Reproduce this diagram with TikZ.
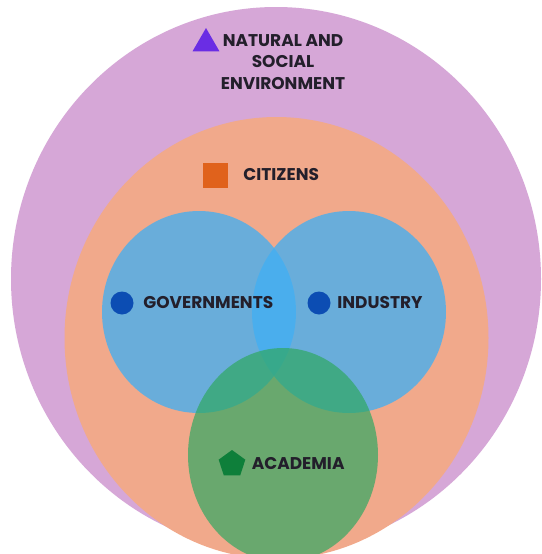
\documentclass[tikz,border=0pt]{standalone}
\usepackage{fontspec}
\setmainfont{Poppins}
\usetikzlibrary{positioning,shapes.geometric}

\definecolor{envpurple}{HTML}{D6A7D7}
\definecolor{citsalmon}{HTML}{F1A98B}
\definecolor{govblue}{HTML}{41AFF3}
\definecolor{acadgreen}{HTML}{30A862}
\definecolor{ink}{HTML}{231F2B}
\definecolor{trivio}{HTML}{6A2DE4}
\definecolor{sqorange}{HTML}{E0621C}
\definecolor{dotblue}{HTML}{0C4DB3}
\definecolor{pentgreen}{HTML}{0E7F3A}

\begin{document}
\begin{tikzpicture}[
        x=1pt, y=-1pt, % координаты в пикселях, ось y вниз
        blob/.style = {fill=#1, opacity=0.77}, % полупрозрачные круги
        tag/.style = {font=\bfseries\fontsize{17}{21.5}\selectfont, text=ink, inner sep=0pt, anchor=west}, % подписи
        sign/.style = {inner sep=0pt, minimum size=#1}, % значки
    ]

    \clip (0,0) rectangle (541,554);
    \fill[white] (0,0) rectangle (541,554);

    % вложенные области
    \fill[envpurple] (276,279) ellipse [x radius=265pt, y radius=272pt];
    \fill[citsalmon] (276.5,338) ellipse [x radius=212pt, y radius=221pt];
    \fill[blob=govblue] (199,312) ellipse [x radius=97pt, y radius=101pt];
    \fill[blob=govblue] (349,312) ellipse [x radius=97pt, y radius=101pt];
    \begin{scope}
        \clip (276.5,338) ellipse [x radius=212pt, y radius=221pt];
        \fill[acadgreen, opacity=0.7] (283,455) ellipse [x radius=95pt, y radius=107pt];
    \end{scope}

    % значки и подписи
    \node[sign=31pt, regular polygon, regular polygon sides=3, fill=trivio] (tri) at (206,43.5) {};
    \node[tag, anchor=center, align=center] (env) at (283,62) {NATURAL AND\\SOCIAL\\ENVIRONMENT};

    \node[sign=25pt, rectangle, fill=sqorange] (sq) at (215,175) {};
    \node[tag, right=15.5pt of sq] (cit) {CITIZENS};

    \node[sign=23pt, circle, fill=dotblue] (gdot) at (122,303) {};
    \node[tag, right=9.5pt of gdot] (gov) {GOVERNMENTS};

    \node[sign=23pt, circle, fill=dotblue] (idot) at (319,303) {};
    \node[tag, right=6.5pt of idot] (ind) {INDUSTRY};

    \node[sign=28pt, regular polygon, regular polygon sides=5, fill=pentgreen] (pent) at (232,464) {};
    \node[tag, right=7.5pt of pent] (acad) {ACADEMIA};
\end{tikzpicture}
\end{document}
